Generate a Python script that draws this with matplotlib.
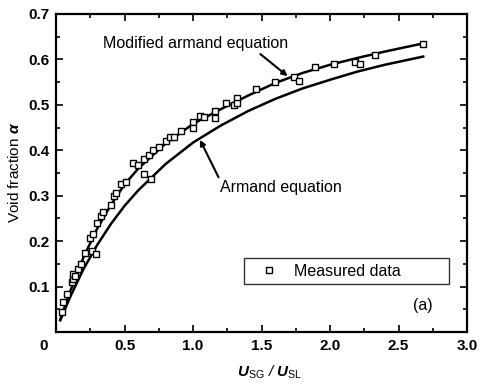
import matplotlib
matplotlib.use("Agg")
import matplotlib.pyplot as plt
from matplotlib.ticker import MultipleLocator

plt.rcParams['font.family'] = ['Liberation Sans', 'DejaVu Sans']
plt.rcParams['mathtext.fontset'] = 'custom'
plt.rcParams['mathtext.rm'] = 'Liberation Sans'
plt.rcParams['mathtext.it'] = 'Liberation Sans:italic:bold'

meas_x = [0.044, 0.05, 0.08, 0.117, 0.125, 0.125, 0.14, 0.16, 0.18, 0.21, 0.25, 0.26,
          0.27, 0.29, 0.30, 0.33, 0.34, 0.40, 0.42, 0.44, 0.47, 0.51, 0.56, 0.60,
          0.64, 0.64, 0.68, 0.69, 0.71, 0.75, 0.80, 0.83, 0.86, 0.91, 1.00, 1.00,
          1.05, 1.08, 1.16, 1.16, 1.24, 1.30, 1.32, 1.32, 1.46, 1.60, 1.74, 1.77,
          1.89, 2.03, 2.18, 2.22, 2.33, 2.68]
meas_y = [0.044, 0.066, 0.083, 0.110, 0.116, 0.127, 0.123, 0.138, 0.149, 0.175, 0.208, 0.178,
          0.215, 0.171, 0.240, 0.255, 0.265, 0.280, 0.300, 0.307, 0.325, 0.330, 0.371, 0.367,
          0.380, 0.347, 0.390, 0.336, 0.400, 0.408, 0.420, 0.430, 0.430, 0.443, 0.463, 0.450,
          0.475, 0.474, 0.487, 0.472, 0.505, 0.500, 0.516, 0.505, 0.535, 0.551, 0.562, 0.553,
          0.584, 0.590, 0.595, 0.590, 0.610, 0.634]

# curves
curve_x = [0.03, 0.05, 0.1, 0.2, 0.3, 0.4, 0.5, 0.6, 0.8, 1.0, 1.2, 1.4, 1.6, 1.8,
           2.0, 2.2, 2.4, 2.68]
armand_y = [0.026, 0.040, 0.076, 0.139, 0.192, 0.238, 0.278, 0.312, 0.370, 0.417, 0.454,
            0.486, 0.513, 0.536, 0.555, 0.573, 0.588, 0.606]
modified_y = [0.028, 0.045, 0.088, 0.165, 0.228, 0.280, 0.325, 0.360, 0.415, 0.458, 0.490,
              0.520, 0.548, 0.570, 0.588, 0.603, 0.617, 0.635]

fig = plt.figure(figsize=(4.8, 3.84), dpi=100)
ax = fig.add_axes([0.117, 0.135, 0.856, 0.829])

ax.plot(curve_x, modified_y, color='black', lw=1.8)
ax.plot(curve_x, armand_y, color='black', lw=1.8)
ax.plot(meas_x, meas_y, 's', mfc='white', mec='black', ms=5, mew=1.0,
        label='Measured data')

ax.set_xlim(0, 3.0)
ax.set_ylim(0, 0.7)
ax.xaxis.set_minor_locator(MultipleLocator(0.25))
ax.yaxis.set_minor_locator(MultipleLocator(0.05))
ax.set_xticks([0.5, 1.0, 1.5, 2.0, 2.5, 3.0])
ax.set_xticklabels(['0.5', '1.0', '1.5', '2.0', '2.5', '3.0'])
ax.set_yticks([0.1, 0.2, 0.3, 0.4, 0.5, 0.6, 0.7])
ax.set_yticklabels(['0.1', '0.2', '0.3', '0.4', '0.5', '0.6', '0.7'])
ax.tick_params(which='both', direction='in', top=True, right=True, width=1.2)
ax.tick_params(which='major', length=5, labelsize=11, pad=5)
ax.tick_params(which='minor', length=3)
for lab in ax.get_xticklabels() + ax.get_yticklabels():
    lab.set_fontweight('bold')
for s in ax.spines.values():
    s.set_linewidth(1.6)
ax.text(-0.09, -0.03, '0', ha='center', va='center', fontsize=11, fontweight='bold')

ax.set_xlabel(r'$U_{\rm SG}$ / $U_{\rm SL}$', fontsize=11, style='italic')
ax.xaxis.set_label_coords(0.52, -0.10)
ax.set_ylabel(r'Void fraction $\alpha$', fontsize=11, labelpad=4)

ax.annotate('Modified armand equation', xy=(1.69, 0.563), xytext=(1.02, 0.634),
            ha='center', va='center', fontsize=11.5,
            arrowprops=dict(arrowstyle='-|>', color='black', lw=1.5,
                            shrinkA=0, shrinkB=0, mutation_scale=8,
                            relpos=(0.83, 0.0)))
ax.annotate('Armand equation', xy=(1.05, 0.423), xytext=(1.64, 0.318),
            ha='center', va='center', fontsize=11.5,
            arrowprops=dict(arrowstyle='-|>', color='black', lw=1.5,
                            shrinkA=0, shrinkB=0, mutation_scale=8,
                            relpos=(0.0, 1.0)))

leg = ax.legend(loc='upper left', bbox_to_anchor=(0.457, 0.157, 0.499, 0.075),
                mode='expand', fontsize=11.5, frameon=True, fancybox=False,
                edgecolor='black', handlelength=2.4, handletextpad=0.4,
                borderpad=0.35, borderaxespad=0, markerscale=0.8, numpoints=1)
leg.get_frame().set_linewidth(1.0)
ax.text(2.68, 0.058, '(a)', ha='center', va='center', fontsize=11.5)

fig.savefig('out.png', dpi=100)
